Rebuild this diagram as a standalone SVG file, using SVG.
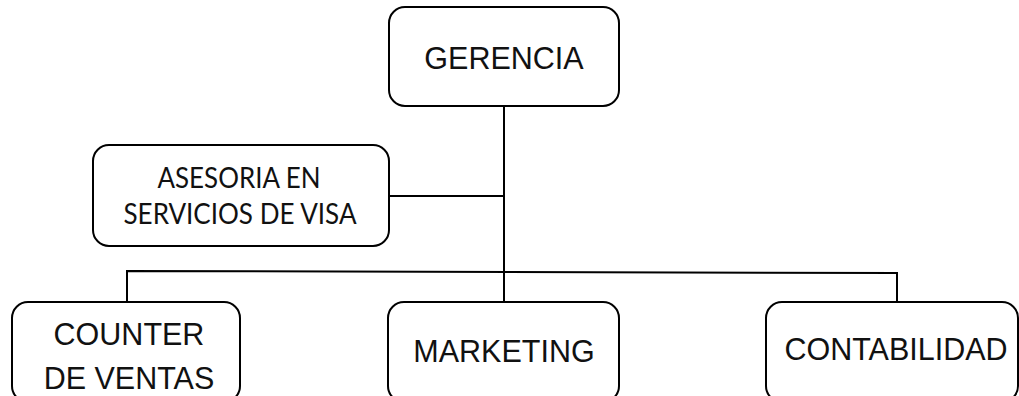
<svg xmlns="http://www.w3.org/2000/svg" width="1019" height="396" viewBox="0 0 1019 396">
<style>
.box{fill:#fff;stroke:#000;stroke-width:2}
.t{font-family:"Liberation Sans",Arial,sans-serif;font-size:30.5px;fill:#111;text-anchor:middle}
.c{font-family:Lato,"Open Sans",sans-serif;font-size:28px;fill:#111;text-anchor:middle}
.ln{stroke:#000;stroke-width:2;fill:none}
</style>
<rect width="1019" height="396" fill="#fff"/>
<g id="connectors">
<line class="ln" x1="504" y1="106" x2="504" y2="302"/>
<line class="ln" x1="389" y1="196" x2="504" y2="196"/>
<polyline class="ln" points="127,302 127,271 897,273 897,302"/>
</g>
<g id="gerencia">
<rect class="box" x="389" y="7" width="230" height="99" rx="16"/>
<text class="t" x="504" y="69">GERENCIA</text>
</g>
<g id="asesoria">
<rect class="box" x="93" y="145" width="296" height="101" rx="16"/>
<text class="c" x="239" y="188" textLength="163" lengthAdjust="spacingAndGlyphs">ASESORIA EN</text>
<text class="c" x="240" y="224" textLength="233" lengthAdjust="spacingAndGlyphs">SERVICIOS DE VISA</text>
</g>
<g id="counter">
<rect class="box" x="12" y="302" width="228" height="100" rx="16"/>
<text class="t" x="129" y="345">COUNTER</text>
<text class="t" x="129" y="389">DE VENTAS</text>
</g>
<g id="marketing">
<rect class="box" x="388" y="302" width="231" height="100" rx="16"/>
<text class="t" x="504" y="362">MARKETING</text>
</g>
<g id="contabilidad">
<rect class="box" x="766" y="302" width="252" height="100" rx="16"/>
<text class="t" x="896" y="360">CONTABILIDAD</text>
</g>
</svg>
